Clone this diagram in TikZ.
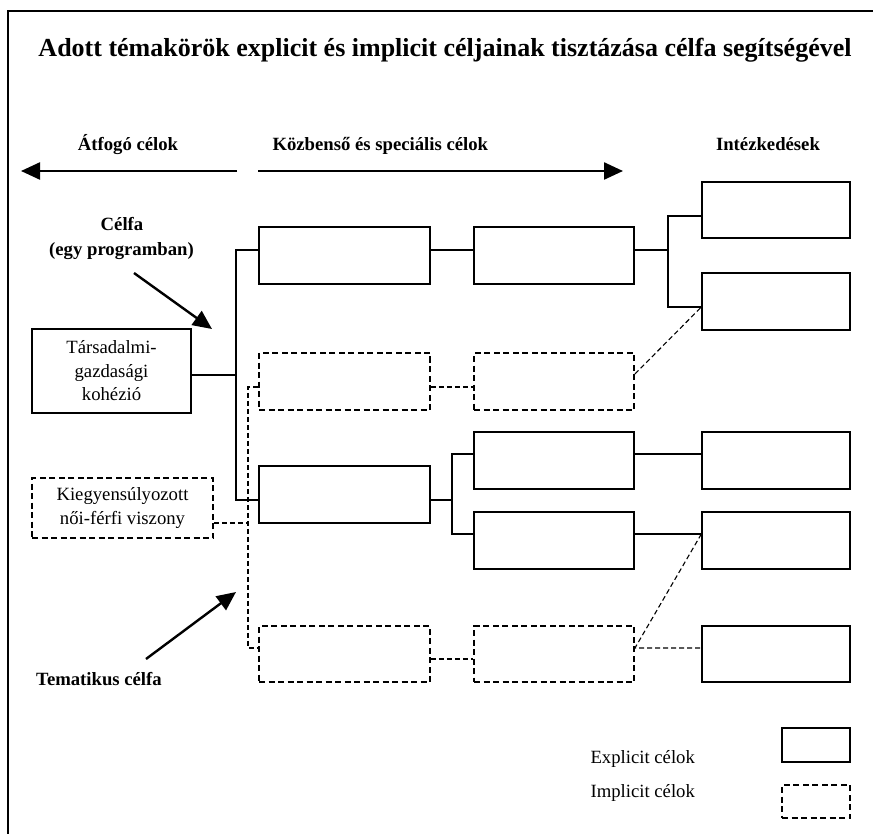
\documentclass[tikz,border=0pt]{standalone}
\usepackage{fontspec}
\setmainfont{Liberation Serif}
\usetikzlibrary{positioning}
\usetikzlibrary{arrows.meta}

\begin{document}
\begin{tikzpicture}[x=1pt,y=-1pt,
    font=\fontsize{18.7}{23.5}\selectfont,
    expl/.style={draw, line width=1.3pt, minimum width=171pt, minimum height=57pt},
    impl/.style={draw, line width=1.9pt, dash pattern=on 6pt off 3.5pt, minimum width=171pt, minimum height=57pt},
    link/.style={line width=1.3pt},
    dlink/.style={line width=1.1pt, dash pattern=on 5pt off 3pt},
    bigarrow/.style={line width=2.4pt, -{Triangle[length=19pt,width=17pt]}},
    head/.style={font=\fontsize{18.7}{23.5}\selectfont\bfseries, anchor=base}]
	\useasboundingbox (0,0) rectangle (873,834);
	\draw[line width=1.2pt] (8,834) -- (8,11) -- (873,11);

	% headings
	\node[font=\fontsize{26}{30}\selectfont\bfseries, anchor=base] (title) at (445,57) {Adott témakörök explicit és implicit céljainak tisztázása célfa segítségével};
	\node[head] (atfogo) at (128,151) {Átfogó célok};
	\node[head, anchor=base west] (kozbenso) at (269,151) {Közbenső és speciális célok};
	\node[head] (intezk) at (768,151) {Intézkedések};
	\node[head] (celfa) at (122,231) {Célfa};
	\node[head] (program) at (121.5,256) {(egy programban)};
	\node[head] (tema) at (99,685) {Tematikus célfa};

	\coordinate (la) at (237,171);
	\coordinate (lb) at (21,171);
	\coordinate (ra) at (258,171);
	\coordinate (rb) at (623,171);
	\draw[bigarrow] (la) -- (lb);
	\draw[bigarrow] (ra) -- (rb);

	\coordinate (p1) at (134,273);
	\coordinate (p2) at (212,329);
	\coordinate (q1) at (146,659);
	\coordinate (q2) at (236,592);
	\draw[bigarrow] (p1) -- (p2);
	\draw[bigarrow] (q1) -- (q2);

	% boxes
	\node[expl, minimum width=159pt, minimum height=84pt, align=center] (soc) at (111.5,371) {Társadalmi-\\gazdasági\\kohézió};
	\node[impl, minimum width=181pt, minimum height=60pt, align=center] (kieg) at (122.5,508) {Kiegyensúlyozott\\női-férfi viszony};

	\node[expl] (a1) at (344.5,255.5) {};
	\node[impl] (a2) at (344.5,381.5) {};
	\node[expl] (a3) at (344.5,494.5) {};
	\node[impl, minimum height=56pt] (a4) at (344.5,654) {};

	\node[expl, minimum width=160pt] (b1) at (554,255.5) {};
	\node[impl, minimum width=160pt] (b2) at (554,381.5) {};
	\node[expl, minimum width=160pt] (b3) at (554,460.5) {};
	\node[expl, minimum width=160pt] (b4) at (554,540.5) {};
	\node[impl, minimum width=160pt, minimum height=56pt] (b5) at (554,654) {};

	\node[expl, minimum width=148pt, minimum height=56pt] (c1) at (776,210) {};
	\node[expl, minimum width=148pt] (c2) at (776,301.5) {};
	\node[expl, minimum width=148pt] (c3) at (776,460.5) {};
	\node[expl, minimum width=148pt] (c4) at (776,540.5) {};
	\node[expl, minimum width=148pt, minimum height=56pt] (c5) at (776,654) {};

	% legend
	\node[expl, minimum width=68pt, minimum height=34pt] (lexpl) at (816,745) {};
	\node[impl, minimum width=68pt, minimum height=33pt] (limpl) at (816,801.5) {};
	\node[anchor=base west] (texpl) at (587,763) {Explicit célok};
	\node[anchor=base west] (timpl) at (587,797) {Implicit célok};

	% solid tree
	\coordinate (j0) at (236,375);
	\coordinate (t1) at (236,250);
	\coordinate (t2) at (236,500);
	\draw[link] (soc.east |- j0) -- (j0);
	\draw[link] (a1.west |- t1) -- (t1) -- (t2) -- (a3.west |- t2);
	\draw[link] (a1.east |- t1) -- (b1.west |- t1);

	\coordinate (f1) at (668,250);
	\coordinate (f1a) at (668,216);
	\coordinate (f1b) at (668,307);
	\draw[link] (b1.east |- f1) -- (f1);
	\draw[link] (c1.west |- f1a) -- (f1a) -- (f1b) -- (c2.west |- f1b);

	\coordinate (g1) at (452,500);
	\coordinate (g1a) at (452,454);
	\coordinate (g1b) at (452,534);
	\draw[link] (a3.east |- g1) -- (g1);
	\draw[link] (b3.west |- g1a) -- (g1a) -- (g1b) -- (b4.west |- g1b);
	\draw[link] (b3.east |- g1a) -- (c3.west |- g1a);
	\draw[link] (b4.east |- g1b) -- (c4.west |- g1b);

	% dashed tree
	\coordinate (d1) at (248,387);
	\coordinate (d2) at (248,648);
	\coordinate (k0) at (248,523);
	\draw[dlink] (a2.west |- d1) -- (d1) -- (d2) -- (a4.west |- d2);
	\draw[dlink] (kieg.east |- k0) -- (k0);
	\draw[dlink] (a2.east |- d1) -- (b2.west |- d1);
	\draw[dlink] (b2.east |- 0,374) -- (c2.west |- f1b);
	\draw[dlink] (a4.east |- 0,659) -- (b5.west |- 0,659);
	\draw[dlink] (c4.west |- g1b) -- (b5.east |- d2) -- (c5.west |- d2);
\end{tikzpicture}
\end{document}
